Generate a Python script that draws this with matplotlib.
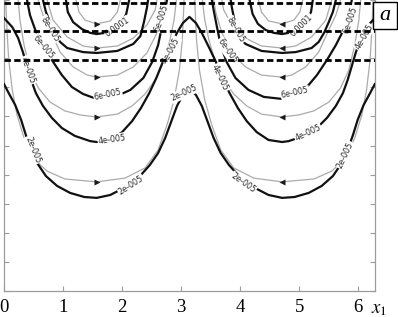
import numpy as np
import matplotlib
matplotlib.use("Agg")
import matplotlib.pyplot as plt
from matplotlib.patches import Rectangle

plt.rcParams['mathtext.fontset'] = 'stix'

# ---------------- data (x in radians, y in tick units) ----------------
x_ticks = [0, 1, 2, 3, 4, 5, 6]
x_tick_labels = ["0", "1", "2", "3", "4", "5", "6"]
y_ticks = [0, 1, 2, 3, 4, 5, 6, 7, 8, 9, 10]

# thick contour 0.0001 (left / right vortex)
c0001_y = [10.0, 9.59, 9.24, 9.00, 8.87, 8.83, 8.87, 8.97, 9.18, 9.52, 10.0]
c0001_xl = [1.05, 1.08, 1.17, 1.32, 1.46, 1.57, 1.71, 1.85, 1.98, 2.07, 2.12]
c0001_xr = [5.23, 5.20, 5.11, 4.96, 4.82, 4.71, 4.57, 4.43, 4.30, 4.21, 4.16]

# thick contour 8e-005
c8e5_y = [10.0, 9.59, 9.24, 8.87, 8.56, 8.35, 8.21, 8.18, 8.25, 8.49, 8.76, 9.24, 9.73, 10.0]
c8e5_xl = [0.66, 0.71, 0.78, 0.86, 0.95, 1.07, 1.34, 1.57, 1.92, 2.19, 2.31, 2.37, 2.42, 2.44]
c8e5_xr = [5.62, 5.57, 5.50, 5.42, 5.33, 5.21, 4.94, 4.71, 4.36, 4.09, 3.97, 3.91, 3.86, 3.84]

# thick contour 6e-005
c6e5_y = [10.0, 9.48, 8.97, 8.45, 7.94, 7.42, 7.01, 6.77, 6.60, 6.67, 6.91, 7.32, 7.87, 8.45, 9.14, 9.66, 10.0]
c6e5_xl = [0.39, 0.44, 0.53, 0.66, 0.81, 0.98, 1.15, 1.34, 1.57, 1.88, 2.14, 2.36, 2.51, 2.61, 2.68, 2.73, 2.76]
c6e5_xr = [5.89, 5.84, 5.75, 5.62, 5.47, 5.30, 5.13, 4.94, 4.71, 4.40, 4.14, 3.92, 3.77, 3.67, 3.60, 3.55, 3.52]

# thick contour 4e-005 (one W-shaped line across the whole width)
c4e5_x = [0.00, 0.14, 0.24, 0.32, 0.39, 0.46, 0.54, 0.66, 0.81, 0.98, 1.20, 1.46, 1.57, 1.80, 2.00,
          2.17, 2.32, 2.46, 2.58, 2.69, 2.81, 2.93, 3.03, 3.14,
          3.25, 3.35, 3.47, 3.59, 3.70, 3.82, 3.96, 4.11, 4.28, 4.48, 4.71, 4.82, 5.08, 5.30, 5.47,
          5.62, 5.74, 5.82, 5.89, 5.96, 6.04, 6.14, 6.28]
c4e5_y = [9.38, 9.07, 8.69, 8.21, 7.73, 7.25, 6.80, 6.36, 5.95, 5.60, 5.33, 5.15, 5.12, 5.19, 5.46,
          5.84, 6.29, 6.80, 7.32, 7.87, 8.38, 8.87, 9.21, 9.42,
          9.21, 8.87, 8.38, 7.87, 7.32, 6.80, 6.29, 5.84, 5.46, 5.19, 5.12, 5.15, 5.33, 5.60, 5.95,
          6.36, 6.80, 7.25, 7.73, 8.21, 8.69, 9.07, 9.38]

# thick contour 2e-005 (one W-shaped line across the whole width)
c2e5_x = [0.00, 0.08, 0.19, 0.29, 0.37, 0.46, 0.56, 0.71, 0.90, 1.12, 1.36, 1.57, 1.80, 2.00, 2.17,
          2.32, 2.47, 2.61, 2.73, 2.83, 2.93, 3.03, 3.14,
          3.25, 3.35, 3.45, 3.55, 3.67, 3.81, 3.96, 4.11, 4.28, 4.48, 4.71, 4.92, 5.16, 5.38, 5.57,
          5.72, 5.82, 5.91, 5.99, 6.09, 6.20, 6.28]
c2e5_y = [7.11, 6.80, 6.39, 5.88, 5.36, 4.85, 4.40, 3.95, 3.61, 3.37, 3.23, 3.20, 3.30, 3.51, 3.71,
          3.99, 4.33, 4.74, 5.26, 5.81, 6.36, 6.74, 6.94,
          6.74, 6.36, 5.81, 5.26, 4.74, 4.33, 3.99, 3.71, 3.51, 3.30, 3.20, 3.23, 3.37, 3.61, 3.95,
          4.40, 4.85, 5.36, 5.88, 6.39, 6.80, 7.11]

# thin grey streamlines (left vortex x, right vortex x, shared y)
s1_y = [10.0, 9.59, 9.31, 9.18, 9.28, 9.59, 10.0]
s1_xl = [1.22, 1.27, 1.37, 1.57, 1.80, 1.92, 1.97]
s1_xr = [5.06, 5.01, 4.91, 4.71, 4.48, 4.36, 4.31]

s2_y = [10.0, 9.31, 8.73, 8.42, 8.35, 8.42, 8.69, 9.14, 9.66, 10.0]
s2_xl = [0.73, 0.83, 1.07, 1.34, 1.57, 1.92, 2.19, 2.42, 2.56, 2.59]
s2_xr = [5.55, 5.45, 5.21, 4.94, 4.71, 4.36, 4.09, 3.86, 3.72, 3.69]

s3_y = [10.0, 9.48, 8.97, 8.21, 7.70, 7.42, 7.35, 7.42, 7.70, 8.18, 8.87, 9.55, 10.0]
s3_xl = [0.58, 0.66, 0.78, 0.95, 1.17, 1.41, 1.57, 1.92, 2.19, 2.42, 2.59, 2.69, 2.73]
s3_xr = [5.70, 5.62, 5.50, 5.33, 5.11, 4.87, 4.71, 4.36, 4.09, 3.86, 3.69, 3.59, 3.55]

s4_y = [10.0, 9.31, 8.45, 7.59, 6.98, 6.49, 6.19, 6.05, 5.98, 6.08, 6.36, 6.77, 7.32, 7.94, 8.63, 9.31, 10.0]
s4_xl = [0.24, 0.27, 0.34, 0.44, 0.58, 0.78, 1.03, 1.29, 1.57, 1.92, 2.17, 2.39, 2.58, 2.71, 2.81, 2.88, 2.92]
s4_xr = [6.04, 6.01, 5.94, 5.84, 5.70, 5.50, 5.25, 4.99, 4.71, 4.36, 4.11, 3.89, 3.70, 3.57, 3.47, 3.40, 3.36]

s5_y = [10.0, 8.97, 7.94, 6.91, 6.05, 5.26, 4.57, 4.12, 3.85, 3.75, 3.88, 4.23, 4.85, 5.70, 6.56, 7.59, 8.63, 10.0]
s5_xl = [0.03, 0.05, 0.08, 0.14, 0.22, 0.34, 0.49, 0.73, 1.03, 1.57, 2.05, 2.39, 2.61, 2.76, 2.88, 2.97, 3.02, 3.05]
s5_xr = [6.25, 6.23, 6.20, 6.14, 6.06, 5.94, 5.79, 5.55, 5.25, 4.71, 4.23, 3.89, 3.67, 3.52, 3.40, 3.31, 3.26, 3.23]

# dashed horizontal levels
dashed_y = [9.90, 8.92, 7.94]

# contour labels: text, x, y, rotation
label_text = ["0.0001", "8e-005", "6e-005", "4e-005", "2e-005", "6e-005", "4e-005", "2e-005",
              "6e-005", "4e-005", "2e-005",
              "8e-005", "6e-005", "4e-005", "0.0001", "6e-005", "4e-005", "2e-005", "2e-005",
              "6e-005", "4e-005"]
label_x = [1.92, 0.78, 0.66, 0.41, 0.49, 1.76, 1.83, 2.15,
           2.66, 2.83, 3.05,
           3.93, 3.78, 3.66, 5.03, 4.93, 5.15, 4.05, 5.78,
           5.86, 6.10]
label_y = [9.07, 9.00, 8.38, 7.59, 4.85, 6.74, 5.22, 3.64,
           9.38, 8.28, 6.80,
           8.97, 8.25, 7.32, 9.14, 6.80, 5.43, 3.71, 4.67,
           9.31, 8.73]
label_rot = [35, -58, -50, -70, -68, 12, 8, 33,
             72, 62, 25,
             -60, -55, -65, 45, 12, 25, -35, 65,
             72, 60]

# ---------------- figure ----------------
fig = plt.figure(figsize=(3.98, 3.17), dpi=100)
ax = fig.add_axes([4 / 398, 26 / 317, 371 / 398, 291 / 317])
ax.set_xlim(0, 2 * np.pi)
ax.set_ylim(0, 10)

frame_col = '#9c9c9c'
for side in ['left', 'right', 'bottom']:
    ax.spines[side].set_color(frame_col)
    ax.spines[side].set_linewidth(0.9)
ax.spines['top'].set_visible(False)

ax.set_xticks(x_ticks)
ax.set_xticklabels(x_tick_labels, fontfamily='Liberation Serif', fontsize=13.5)
ax.set_yticks(y_ticks)
ax.set_yticklabels([])
ax.tick_params(axis='both', direction='in', length=3.5, width=0.8, color=frame_col)
ax.tick_params(axis='y', left=True, right=True, labelleft=False)
ax.tick_params(axis='x', pad=5.5, labelcolor='black')

thick = dict(color='#111111', lw=1.6, zorder=3, solid_joinstyle='round')
grey = dict(color='#ababab', lw=0.9, zorder=2)

for xs, ys in [(c0001_xl, c0001_y), (c0001_xr, c0001_y), (c8e5_xl, c8e5_y), (c8e5_xr, c8e5_y),
               (c6e5_xl, c6e5_y), (c6e5_xr, c6e5_y), (c4e5_x, c4e5_y), (c2e5_x, c2e5_y)]:
    ax.plot(xs, ys, **thick)

for ys, xl, xr in [(s1_y, s1_xl, s1_xr), (s2_y, s2_xl, s2_xr), (s3_y, s3_xl, s3_xr),
                   (s4_y, s4_xl, s4_xr), (s5_y, s5_xl, s5_xr)]:
    ax.plot(xl, ys, **grey)
    ax.plot(xr, ys, **grey)
    i = int(np.argmin(ys))
    ax.plot(xl[i], ys[i], marker='>', ms=3.8, color='#1a1a1a', mec='none', zorder=4)
    ax.plot(xr[i], ys[i], marker='<', ms=3.8, color='#1a1a1a', mec='none', zorder=4)

for t, x, y, r in zip(label_text, label_x, label_y, label_rot):
    ax.text(x, y, t, fontsize=5.8, color='#2a2a2a', rotation=r, rotation_mode='anchor',
            ha='center', va='center', zorder=5,
            bbox=dict(boxstyle='square,pad=0.08', fc='white', ec='none'))

for y in dashed_y:
    ax.axhline(y, color='black', lw=2.0, dashes=(2.3, 1.2), zorder=6)

# panel letter box
fig.patches.append(Rectangle((373 / 398, 288 / 317), 24 / 398, 27 / 317, transform=fig.transFigure,
                             fc='white', ec='black', lw=1.0, zorder=10))
fig.text(385 / 398, 301 / 317, 'a', fontfamily='Liberation Serif', style='italic', fontsize=16,
         ha='center', va='center', zorder=11)

# axis label
fig.text(371 / 398, 9 / 317, '$x_1$', fontsize=13.5, ha='left', va='center')

fig.savefig('out.png', dpi=100)
